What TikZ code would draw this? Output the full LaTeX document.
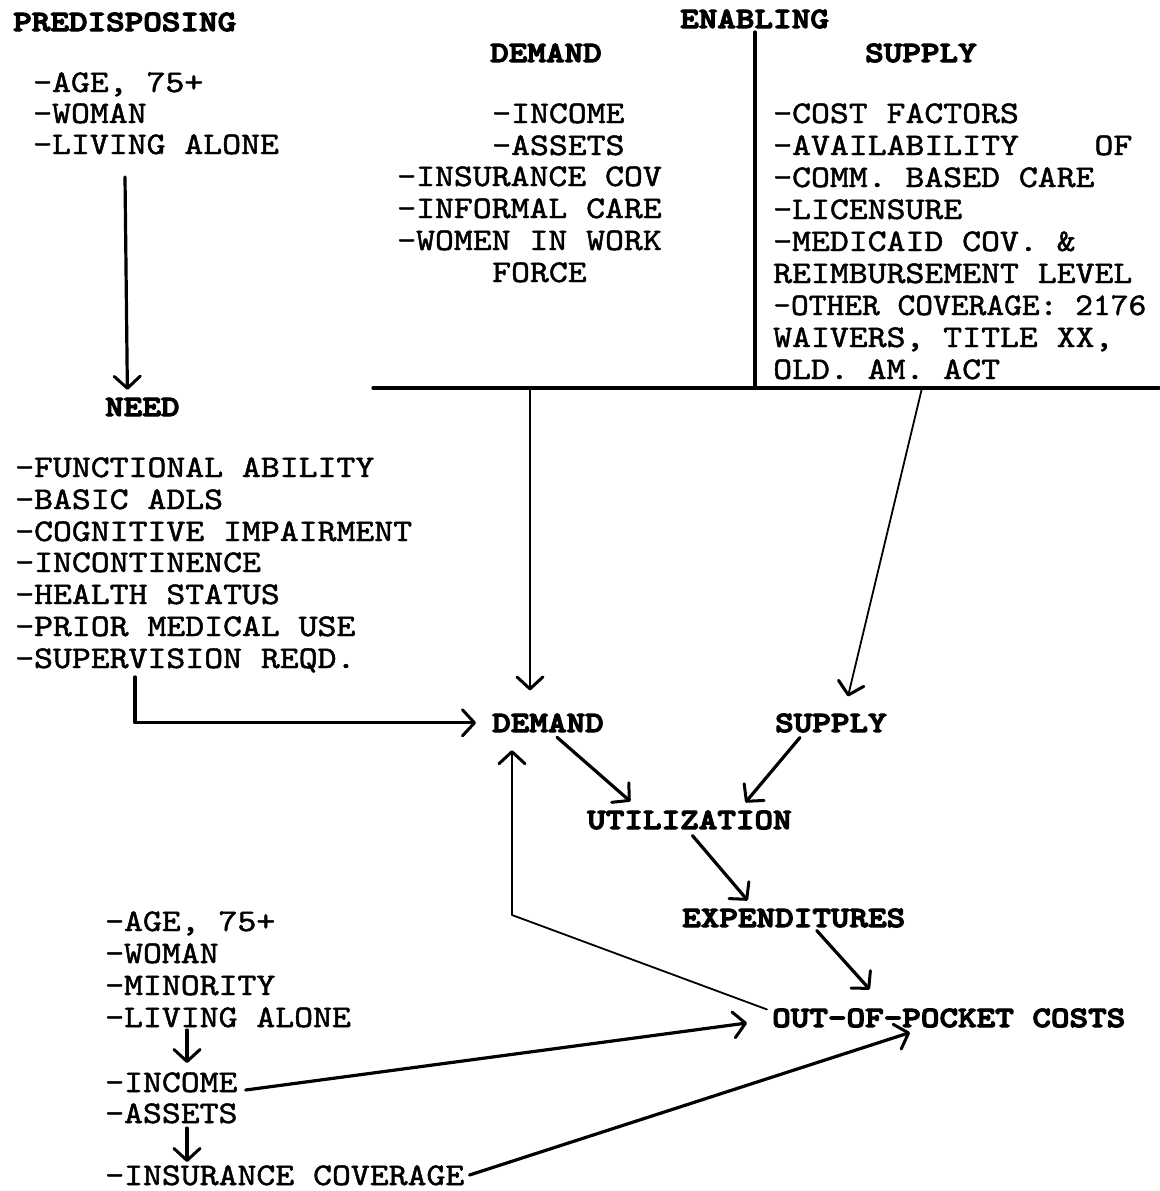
\documentclass[tikz,border=0pt]{standalone}
\usepackage{fontspec}
\usetikzlibrary{arrows.meta}
\newfontfamily\bodyf{lmmono10-regular.otf}[FakeStretch=1.143,FakeBold=1.5]
\newfontfamily\headf{lmmonolt10-bold.otf}[FakeStretch=1.2,FakeBold=4]
\begin{document}
\begin{tikzpicture}[x=1pt,y=-1pt,
  body/.style={font=\bodyf\fontsize{31.5}{32}\selectfont, inner sep=0pt, anchor=base west},
  head/.style={font=\headf\fontsize{29.5}{30}\selectfont, inner sep=0pt, anchor=base west},
  tip/.style={-{Straight Barb[length=12pt,width=26pt,line width=3pt,round]}},
  heavyln/.style={line width=3.2pt, line cap=round, line join=round},
  lightln/.style={line width=1.8pt, line cap=round, line join=round}]
\useasboundingbox[fill=white] (0,0) rectangle (1159,1191);

% headings
\node[head] (pre) at (13,31) {PREDISPOSING};
\node[head] (en) at (680,28) {ENABLING};
\node[head] (dh) at (490,62) {DEMAND};
\node[head] (sh) at (865,62) {SUPPLY};

% predisposing list
\node[body] (a1) at (33,92) {-AGE, 75+};
\node[body] (a2) at (33,123) {-WOMAN};
\node[body] (a3) at (33,154) {-LIVING ALONE};

% demand list
\node[body] (d1) at (492,123) {-INCOME};
\node[body] (d2) at (492,155) {-ASSETS};
\node[body] (d3) at (397,186) {-INSURANCE COV};
\node[body] (d4) at (397,218) {-INFORMAL CARE};
\node[body] (d5) at (397,250) {-WOMEN IN WORK};
\node[body] (d6) at (492,282) {FORCE};

% supply list
\node[body] (s1) at (773,123) {-COST FACTORS};
\node[body] (s2) at (773,155) {-AVAILABILITY~~~~OF};
\node[body] (s3) at (773,187) {-COMM. BASED CARE};
\node[body] (s4) at (773,219) {-LICENSURE};
\node[body] (s5) at (773,251) {-MEDICAID COV. \&};
\node[body] (s6) at (773,283) {REIMBURSEMENT LEVEL};
\node[body] (s7) at (773,315) {\scalebox{0.94}[1]{-OTHER COVERAGE: 2176}};
\node[body] (s8) at (773,347) {WAIVERS, TITLE XX,};
\node[body] (s9) at (773,379) {OLD. AM. ACT};

% rules
\coordinate (vtop) at (755,32);
\coordinate (ruleL) at (373,388);
\coordinate (ruleR) at (1159,388);
\draw[heavyln] (vtop) -- (vtop |- ruleL);
\draw[heavyln] (ruleL) -- (ruleR);
\coordinate (dsrc) at (530,388);
\coordinate (ssrc) at (922,388);

% need
\node[head] (need) at (105,416) {NEED};
\node[body] (n1) at (15,477) {-FUNCTIONAL ABILITY};
\node[body] (n2) at (15,509) {-BASIC ADLS};
\node[body] (n3) at (15,541) {-COGNITIVE IMPAIRMENT};
\node[body] (n4) at (15,572) {-INCONTINENCE};
\node[body] (n5) at (15,604) {-HEALTH STATUS};
\node[body] (n6) at (15,636) {-PRIOR MEDICAL USE};
\node[body] (n7) at (15,668) {-SUPERVISION REQD.};

% flow nodes
\node[head] (dm) at (492,732) {DEMAND};
\node[head] (sm) at (775,732) {SUPPLY};
\node[head] (util) at (587,829) {UTILIZATION};
\node[head] (exp) at (682,927) {EXPENDITURES};
\node[head] (oop) at (772,1027) {OUT-OF-POCKET COSTS};

% bottom list
\node[body] (b1) at (105,931) {-AGE, 75+};
\node[body] (b2) at (105,963) {-WOMAN};
\node[body] (b3) at (105,995) {-MINORITY};
\node[body] (b4) at (105,1027) {-LIVING ALONE};
\node[body] (b5) at (105,1092) {-INCOME};
\node[body] (b6) at (105,1123) {-ASSETS};
\node[body] (b7) at (105,1185) {-INSURANCE COVERAGE};

% connectors
\draw[heavyln,tip] ([xshift=92pt,yshift=-23pt]a3.base west) -- ([xshift=-15pt,yshift=8pt]need.north);
\draw[heavyln,tip] ([xshift=120pt,yshift=-9pt]n7.base west) |- ([xshift=-16pt]dm.west);
\draw[lightln,tip] (dsrc) -- ([xshift=-18pt,yshift=23pt]dm.north);
\draw[lightln,tip] (ssrc) -- ([xshift=17pt,yshift=17pt]sm.north);
\draw[heavyln,tip] ([xshift=9pt,yshift=-5pt]dm.south) -- ([xshift=-59pt,yshift=9pt]util.north);
\draw[heavyln,tip] ([xshift=-31pt,yshift=-5pt]sm.south) -- ([xshift=56pt,yshift=8pt]util.north);
\draw[heavyln,tip] ([xshift=3pt,yshift=-6pt]util.south) -- ([xshift=-46pt,yshift=8pt]exp.north);
\draw[heavyln,tip] ([xshift=23pt,yshift=-3pt]exp.south) -- ([xshift=-79pt,yshift=19pt]oop.north);
\coordinate (fbk) at (512,915);
\draw[lightln,tip] ([xshift=-5pt,yshift=-1pt]oop.north west) -- (fbk) -- ([xshift=-36pt,yshift=-18pt]dm.south);
\draw[heavyln,tip] ([xshift=82pt,yshift=-3pt]b4.base west) -- ([xshift=82pt,yshift=29pt]b5.base west);
\draw[heavyln,tip] ([xshift=82pt,yshift=-5pt]b6.base west) -- ([xshift=82pt,yshift=23pt]b7.base west);
\draw[heavyln,tip] ([xshift=8pt,yshift=2pt]b5.base east) -- ([xshift=-25pt,yshift=-5pt]oop.west);
\draw[heavyln,tip] ([xshift=5pt,yshift=10pt]b7.base east) -- ([xshift=138pt,yshift=-5pt]oop.south west);
\end{tikzpicture}
\end{document}
